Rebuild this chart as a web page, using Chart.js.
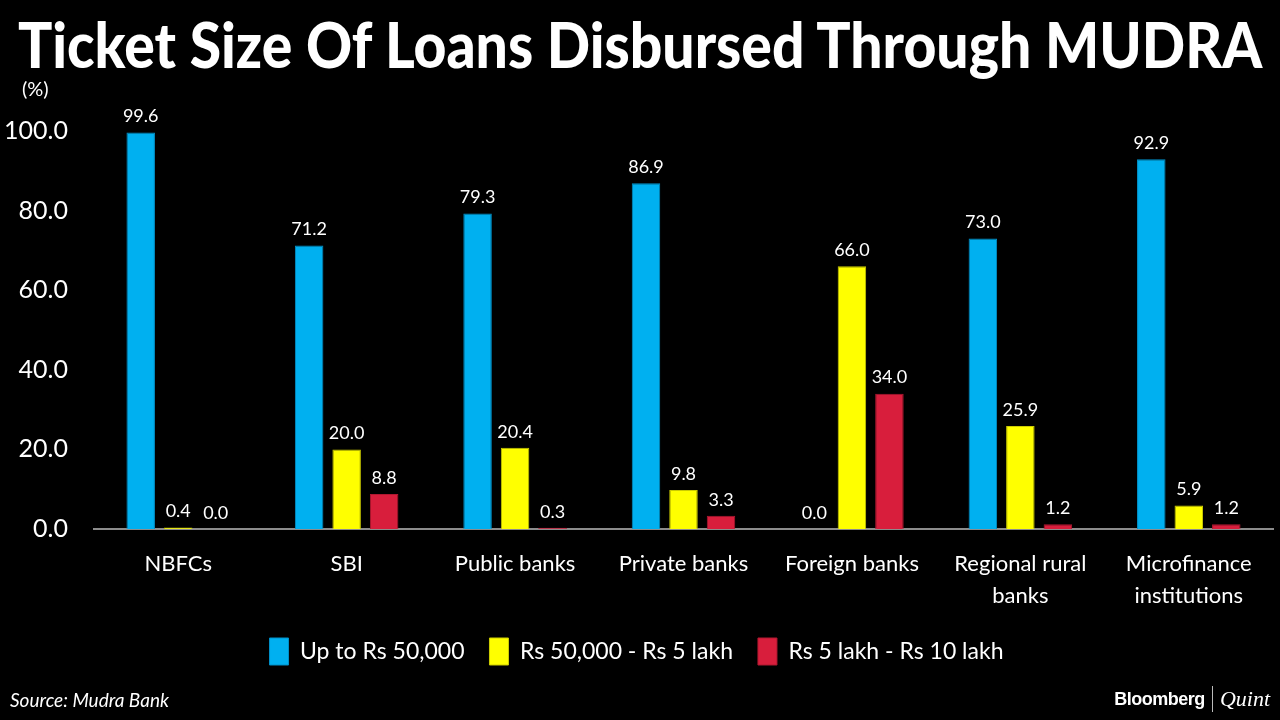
<!DOCTYPE html>
<html>
<head>
<meta charset="utf-8">
<script src="https://cdn.jsdelivr.net/npm/chart.js@4"></script>
<style>
  html, body { margin: 0; padding: 0; background: #000; }
  body { width: 1280px; height: 720px; position: relative; overflow: hidden; font-family: Lato, sans-serif; color: #fff; }
  #title { position: absolute; left: 18px; top: 6px; font-weight: 900; font-size: 62px; white-space: nowrap; transform-origin: 0 0; line-height: 76px; }
  #unit { position: absolute; left: 22px; top: 76px; font-size: 20px; }
  #source { position: absolute; left: 10px; top: 688px; font-size: 19px; font-style: italic; }
  #logo { position: absolute; right: 10px; top: 686px; font-size: 18px; display: flex; align-items: center; }
  #logo b { font-family: "Liberation Sans", Arial, sans-serif; font-weight: 700; letter-spacing: -0.5px; }
  #logo .bar { width: 1px; height: 26px; background: #bbb; margin: 0 7px; }
  #logo i { font-family: "Liberation Serif", serif; font-size: 22px; }
  #wrap { position: absolute; left: 0; top: 0; width: 1280px; height: 720px; }
</style>
</head>
<body>
<div id="wrap"><canvas id="myChart" width="1280" height="720"></canvas></div>
<div id="title">Ticket Size Of Loans Disbursed Through MUDRA</div>
<div id="unit">(%)</div>
<div id="source">Source: Mudra Bank</div>
<div id="logo"><b>Bloomberg</b><span class="bar"></span><i>Quint</i></div>
<script>
// fit title to reference width
var t = document.getElementById('title');
t.style.transform = 'scaleX(' + (1244 / t.offsetWidth) + ')';

var categories = ['NBFCs', 'SBI', 'Public banks', 'Private banks', 'Foreign banks', ['Regional rural', 'banks'], ['Microfinance', 'institutions']];
var upTo50k = [99.6, 71.2, 79.3, 86.9, 0.0, 73.0, 92.9];
var from50kTo5lakh = [0.4, 20.0, 20.4, 9.8, 66.0, 25.9, 5.9];
var from5To10lakh = [0.0, 8.8, 0.3, 3.3, 34.0, 1.2, 1.2];
var yTicks = [0, 20, 40, 60, 80, 100];

// value labels above bars
var barLabels = {
    id: 'barLabels',
    afterDatasetsDraw: function(chart) {
        var ctx = chart.ctx;
        ctx.save();
        ctx.fillStyle = '#fff';
        ctx.font = '18px Lato';
        ctx.textAlign = 'center';
        ctx.textBaseline = 'bottom';
        chart.data.datasets.forEach(function(ds, i) {
            chart.getDatasetMeta(i).data.forEach(function(bar, j) {
                ctx.fillText(ds.data[j].toFixed(1), bar.x, bar.y - 7);
            });
        });
        ctx.restore();
    }
};

var ctx = document.getElementById('myChart');
var myChart = new Chart(ctx, {
    type: 'bar',
    data: {
        labels: categories,
        datasets: [{
            label: 'Up to Rs 50,000',
            data: upTo50k,
            backgroundColor: '#00B0F0',
            borderColor: '#0090c8',
            borderWidth: 1
        }, {
            label: 'Rs 50,000 - Rs 5 lakh',
            data: from50kTo5lakh,
            backgroundColor: '#FFFF00',
            borderColor: '#cccc00',
            borderWidth: 1
        }, {
            label: 'Rs 5 lakh - Rs 10 lakh',
            data: from5To10lakh,
            backgroundColor: '#D81E3C',
            borderColor: '#b01830',
            borderWidth: 1
        }]
    },
    options: {
        responsive: false,
        animation: false,
        devicePixelRatio: 1,
        categoryPercentage: 0.668,
        barPercentage: 0.76,
        layout: { padding: { top: 131, right: 7, bottom: 45, left: 0 } },
        plugins: {
            tooltip: { enabled: false },
            legend: {
                position: 'bottom',
                labels: {
                    color: '#fff',
                    font: { family: 'Lato', size: 23 },
                    boxWidth: 19,
                    boxHeight: 27,
                    padding: 25
                }
            }
        },
        scales: {
            x: {
                grid: { display: false, drawTicks: false },
                border: { color: '#8c8c8c', width: 2 },
                ticks: {
                    color: '#fff',
                    font: { family: 'Lato', size: 22, lineHeight: 1.45 },
                    padding: 19,
                    maxRotation: 0,
                    autoSkip: false
                },
                afterFit: function(scale) { scale.height = 84; }
            },
            y: {
                min: 0,
                max: 100,
                grid: { display: false, drawTicks: false },
                border: { display: false },
                afterBuildTicks: function(scale) {
                    scale.ticks = yTicks.map(function(v) { return { value: v }; });
                },
                ticks: {
                    color: '#fff',
                    font: { family: 'Lato', size: 25 },
                    padding: 26,
                    callback: function(v) { return v.toFixed(1); }
                },
                afterFit: function(scale) { scale.width = 94; }
            }
        }
    },
    plugins: [barLabels]
});
</script>
</body>
</html>
